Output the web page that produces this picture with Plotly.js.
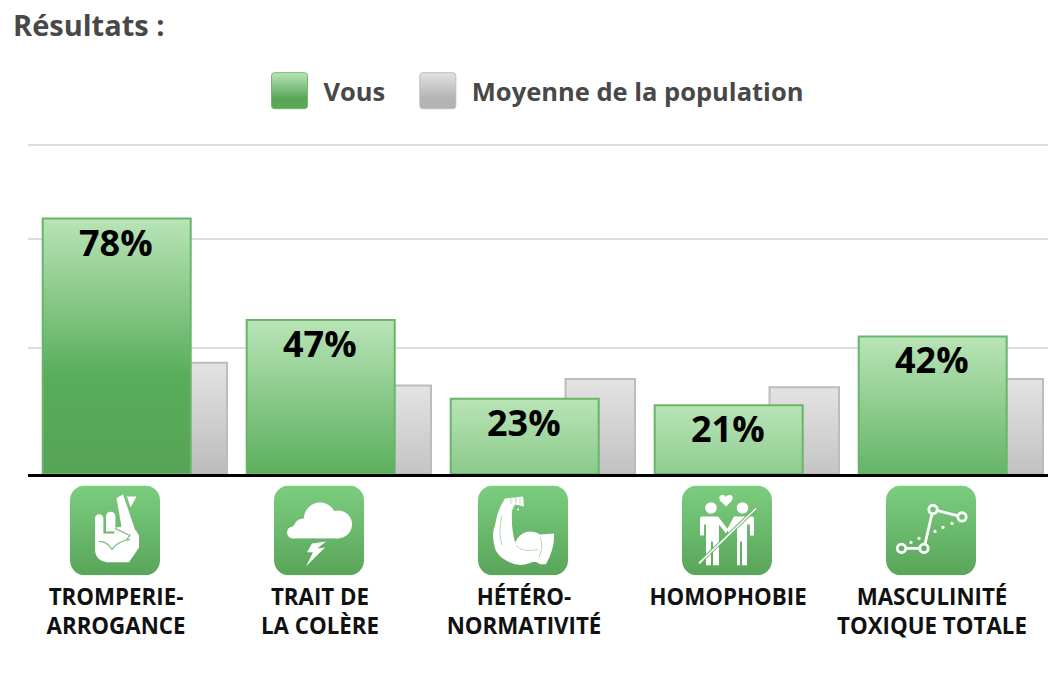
<!DOCTYPE html>
<html lang="fr">
<head>
<meta charset="utf-8">
<script src="https://cdn.plot.ly/plotly-3.0.1.min.js"></script>
<style>html,body{margin:0;padding:0;background:#fff}#chart{width:1064px;height:680px}</style>
</head>
<body>
<div id="chart"></div>
<script>
const categories = ["TROMPERIE-<br>ARROGANCE","TRAIT DE<br>LA COLÈRE","HÉTÉRO-<br>NORMATIVITÉ","HOMOPHOBIE<br> ","MASCULINITÉ<br>TOXIQUE TOTALE"];
const positions = [0,1,2,3,4];
const vous = [78,47,23,21,42];
const population = [34,27,29,26.5,29];
const gridValues = [38.5,71.7,100.5];

const W = 'fill="#fff"';
const iconArt = [
 // crossed fingers
 `<path ${W} d="M25 33a4.200 4.200 0 0 1 8.400 0V50H25zM36 31a4.700 4.700 0 0 1 9.400 0V46H36z"/>
  <path ${W} d="M46.500 12.500 53 9 65 44H52z"/><path ${W} d="M57 11h9.500l-6 11z"/>
  <path ${W} d="M25 48H44L46 42 58 40 66 45 69 50V62L59 77H37Q25 75 25 64Z"/>
  <path fill="none" stroke="#66b369" stroke-opacity=".85" stroke-width="1.200" d="M29 56Q37 56 42 64 47 56 60 54M45 43L60 50 56 55"/>`,
 // storm cloud
 `<g ${W}><circle cx="46" cy="33" r="16"/><circle cx="29" cy="42" r="9"/><circle cx="64" cy="39" r="14"/><circle cx="19" cy="47" r="6"/><rect x="19" y="40" width="45" height="13"/></g>
  <path ${W} d="M52 56 38 58 33 67 39 67 32 81 51 62 43.500 63 47 60Z"/>`,
 // flexed arm
 `<path ${W} d="M27 13 45 11 46 21 42 20 37 19 34 25Q33 42 37 57 41 48 50 46 58 46 62 49L76 48Q77 62 68 79L62 79Q58 75 54 77 40 83 28 75 20 71 17 63 13 48 17 40 19 25 27 13Z"/>
  <circle ${W} cx="40" cy="24" r="1"/>
  <path fill="none" stroke="#66b369" stroke-opacity=".55" stroke-width=".9" d="M24 30Q20 48 24 60M38 60Q46 68 60 64M62 52Q66 60 61 72M33 13V19M38 12V18M42 12V18"/>`,
 // couple, crossed out
 `<circle ${W} cx="29" cy="22.500" r="5.800"/><circle ${W} cx="60.500" cy="22.500" r="5.800"/>
  <path ${W} d="M44 21 38 15Q36 10 40 9.500 43 9 44 11.500 45 9 48 9.500 52 10 50 15Z"/>
  <path ${W} d="M20 31H36L46 44 44 48 37 39V80H31V56H29V80H24V39H22V50H18V33Q18 31 20 31Z"/>
  <path ${W} d="M52 31H70Q72 31 72 33V50H68V39H65V80H60V56H58V80H55V39L47 48 45 44Z"/>
  <path stroke="#6ab46c" stroke-width="3.500" d="M17 78 74 23"/>
  <path stroke="#fff" stroke-width="1.500" d="M17 78 74 23"/>`,
 // line chart
 `<g fill="none" stroke="#fff" stroke-width="2.800"><path d="M15.500 63H38L47 24 76 31.500"/>
  <circle cx="15.500" cy="63" r="4.200" fill="#65b168"/><circle cx="38" cy="63" r="4.200" fill="#65b168"/>
  <circle cx="47" cy="24" r="4.200" fill="#6fbf72"/><circle cx="76" cy="31.500" r="4.200" fill="#6dbc70"/></g>
  <g ${W}><circle cx="25" cy="57" r="1.600"/><circle cx="33" cy="53" r="1.600"/><circle cx="49" cy="46" r="1.600"/><circle cx="57" cy="42" r="1.600"/><circle cx="66" cy="38" r="1.600"/></g>`
];
function icon(art){
  const s = `<svg xmlns="http://www.w3.org/2000/svg" width="360" height="360" viewBox="0 0 90 90"><defs><linearGradient id="g" x1="0" y1="0" x2="0" y2="1"><stop offset="0" stop-color="#7ccd7f"/><stop offset="1" stop-color="#59a55a"/></linearGradient></defs><rect width="90" height="90" rx="15" fill="url(#g)"/>${art}</svg>`;
  return 'data:image/svg+xml;charset=utf-8,' + encodeURIComponent(s);
}

const plotBottom = 474.5, pxPerValue = 3.28, yMax = 102, plotH = yMax*pxPerValue, plotTop = plotBottom-plotH, unitPx = 204;
const images = positions.map((p,i)=>({
  source: icon(iconArt[i]), xref:'x', yref:'paper',
  x: p - 1/unitPx, y: (plotBottom-486)/plotH, sizex: 90/unitPx, sizey: 90/plotH,
  xanchor:'center', yanchor:'top', sizing:'stretch', layer:'above'
}));
const labels = positions.map((p,i)=>({
  x:p, y:vous[i], xref:'x', yref:'y', text:vous[i]+'%', showarrow:false,
  yanchor:'top', yshift:3, font:{family:'"Open Sans"',size:36,color:'#000',weight:700}
}));

const traces = [
 {type:'bar', name:'Moyenne de la population', x:positions, y:population, width:69.5/unitPx, offset:41.5/unitPx,
  marker:{color:'#cccccc', line:{color:'#bcbcbc', width:2}}, hoverinfo:'skip'},
 {type:'bar', name:'Vous', x:positions, y:vous, width:148/unitPx, offset:-73.3/unitPx,
  marker:{color:'#7fc77f', line:{color:'#68b56a', width:2}}, hoverinfo:'skip'}
];
const legendFont = {family:'"Open Sans"',size:25.5,color:'#484848',weight:700};
const layout = {
  width:1064, height:680, paper_bgcolor:'#fff', plot_bgcolor:'#fff',
  margin:{l:28,r:16,t:plotTop,b:680-plotBottom,pad:0},
  barmode:'overlay',
  title:{text:'Résultats :', x:13/1064, xref:'container', xanchor:'left', y:1-26/680, yref:'container', yanchor:'middle',
         font:{family:'"Open Sans"',size:29,color:'#484848',weight:700}},
  showlegend:true,
  legend:{orientation:'h', traceorder:'reversed', x:(263.5-28)/1020, xref:'paper', xanchor:'left', y:1+(plotTop-91)/plotH, yanchor:'middle',
          font:legendFont, itemwidth:50, bgcolor:'rgba(0,0,0,0)', itemclick:false, itemdoubleclick:false},
  xaxis:{range:[-88/unitPx,5-88/unitPx], tickmode:'array', tickvals:positions, ticktext:categories, ticks:'',
         tickangle:0, ticklabelstandoff:101, showgrid:false, zeroline:false, showline:true, linecolor:'#000', linewidth:3, layer:'above traces',
         tickfont:{family:'"Open Sans"',size:22.3,color:'#111',weight:700}},
  yaxis:{range:[0,yMax], tickmode:'array', tickvals:gridValues, showticklabels:false, ticks:'', gridcolor:'#dcdcdc', gridwidth:2, zeroline:false, showline:false},
  images:images, annotations:labels
};

function decorate(gd){
  const svg = gd.querySelector('svg.main-svg');
  const NS = 'http://www.w3.org/2000/svg';
  const defs = svg.querySelector('defs') || svg.insertBefore(document.createElementNS(NS,'defs'),svg.firstChild);
  function grad(id,y1,y2,stops,units){
    const g = document.createElementNS(NS,'linearGradient');
    g.setAttribute('id',id);
    g.setAttribute('gradientUnits',units);
    g.setAttribute('x1','0');g.setAttribute('x2','0');g.setAttribute('y1',y1);g.setAttribute('y2',y2);
    stops.forEach(s=>{const t=document.createElementNS(NS,'stop');t.setAttribute('offset',s[0]);t.setAttribute('stop-color',s[1]);g.appendChild(t);});
    defs.appendChild(g);
  }
  const greenStops = [[0,'#b9e4b7'],[0.62,'#57ad59'],[1,'#58a356']], greyStops=[[0,'#e3e3e3'],[1,'#b6b6b6']];
  gd.querySelectorAll('.barlayer .trace').forEach((tg,ti)=>{
    const isGreen = ti===1;
    tg.querySelectorAll('.point').forEach((pt,pi)=>{
      const path = pt.querySelector('path');
      const top = path.getBBox().y, id=`barGrad${ti}_${pi}`;
      grad(id, top, top+(isGreen?258:128), isGreen?greenStops:greyStops,'userSpaceOnUse');
      path.style.setProperty('fill',`url(#${id})`);
      path.style.setProperty('fill-opacity','1');
    });
  });
  grad('swGreen','0','1',[[0,'#bbe4b9'],[0.72,'#57a757'],[1,'#57a757']],'objectBoundingBox');
  grad('swGrey','0','1',[[0,'#e2e2e2'],[0.72,'#b3b3b3'],[1,'#b3b3b3']],'objectBoundingBox');
  const sb = gd.querySelector('.legend .scrollbox');
  if (sb) sb.removeAttribute('clip-path');
  gd.querySelectorAll('.legend .traces').forEach(tr=>{
    const txt = tr.querySelector('text').textContent, green = txt==='Vous';
    const p = tr.querySelector('.legendbar path, .legendpoints path');
    const cx = -4;
    const r = 3, h = 18;
    p.setAttribute('d',`M${cx-h+r},${-h}H${cx+h-r}A${r},${r} 0 0 1 ${cx+h},${-h+r}V${h-r}A${r},${r} 0 0 1 ${cx+h-r},${h}H${cx-h+r}A${r},${r} 0 0 1 ${cx-h},${h-r}V${-h+r}A${r},${r} 0 0 1 ${cx-h+r},${-h}Z`);
    p.style.setProperty('fill',`url(#${green?'swGreen':'swGrey'})`);
    p.style.setProperty('stroke',green?'#6fb870':'#bdbdbd');
    p.style.setProperty('stroke-width','1');
    if(!green){
      const m = /translate\(([-\d.]+)[ ,]*([-\d.]*)\)/.exec(tr.getAttribute('transform')||'');
      if(m) tr.setAttribute('transform',`translate(${+m[1]+21.5},${m[2]||0})`);
    }
  });
}
const gd = document.getElementById('chart');
Plotly.newPlot(gd,traces,layout,{displayModeBar:false,staticPlot:true}).then(()=>decorate(gd));
</script>
</body>
</html>
